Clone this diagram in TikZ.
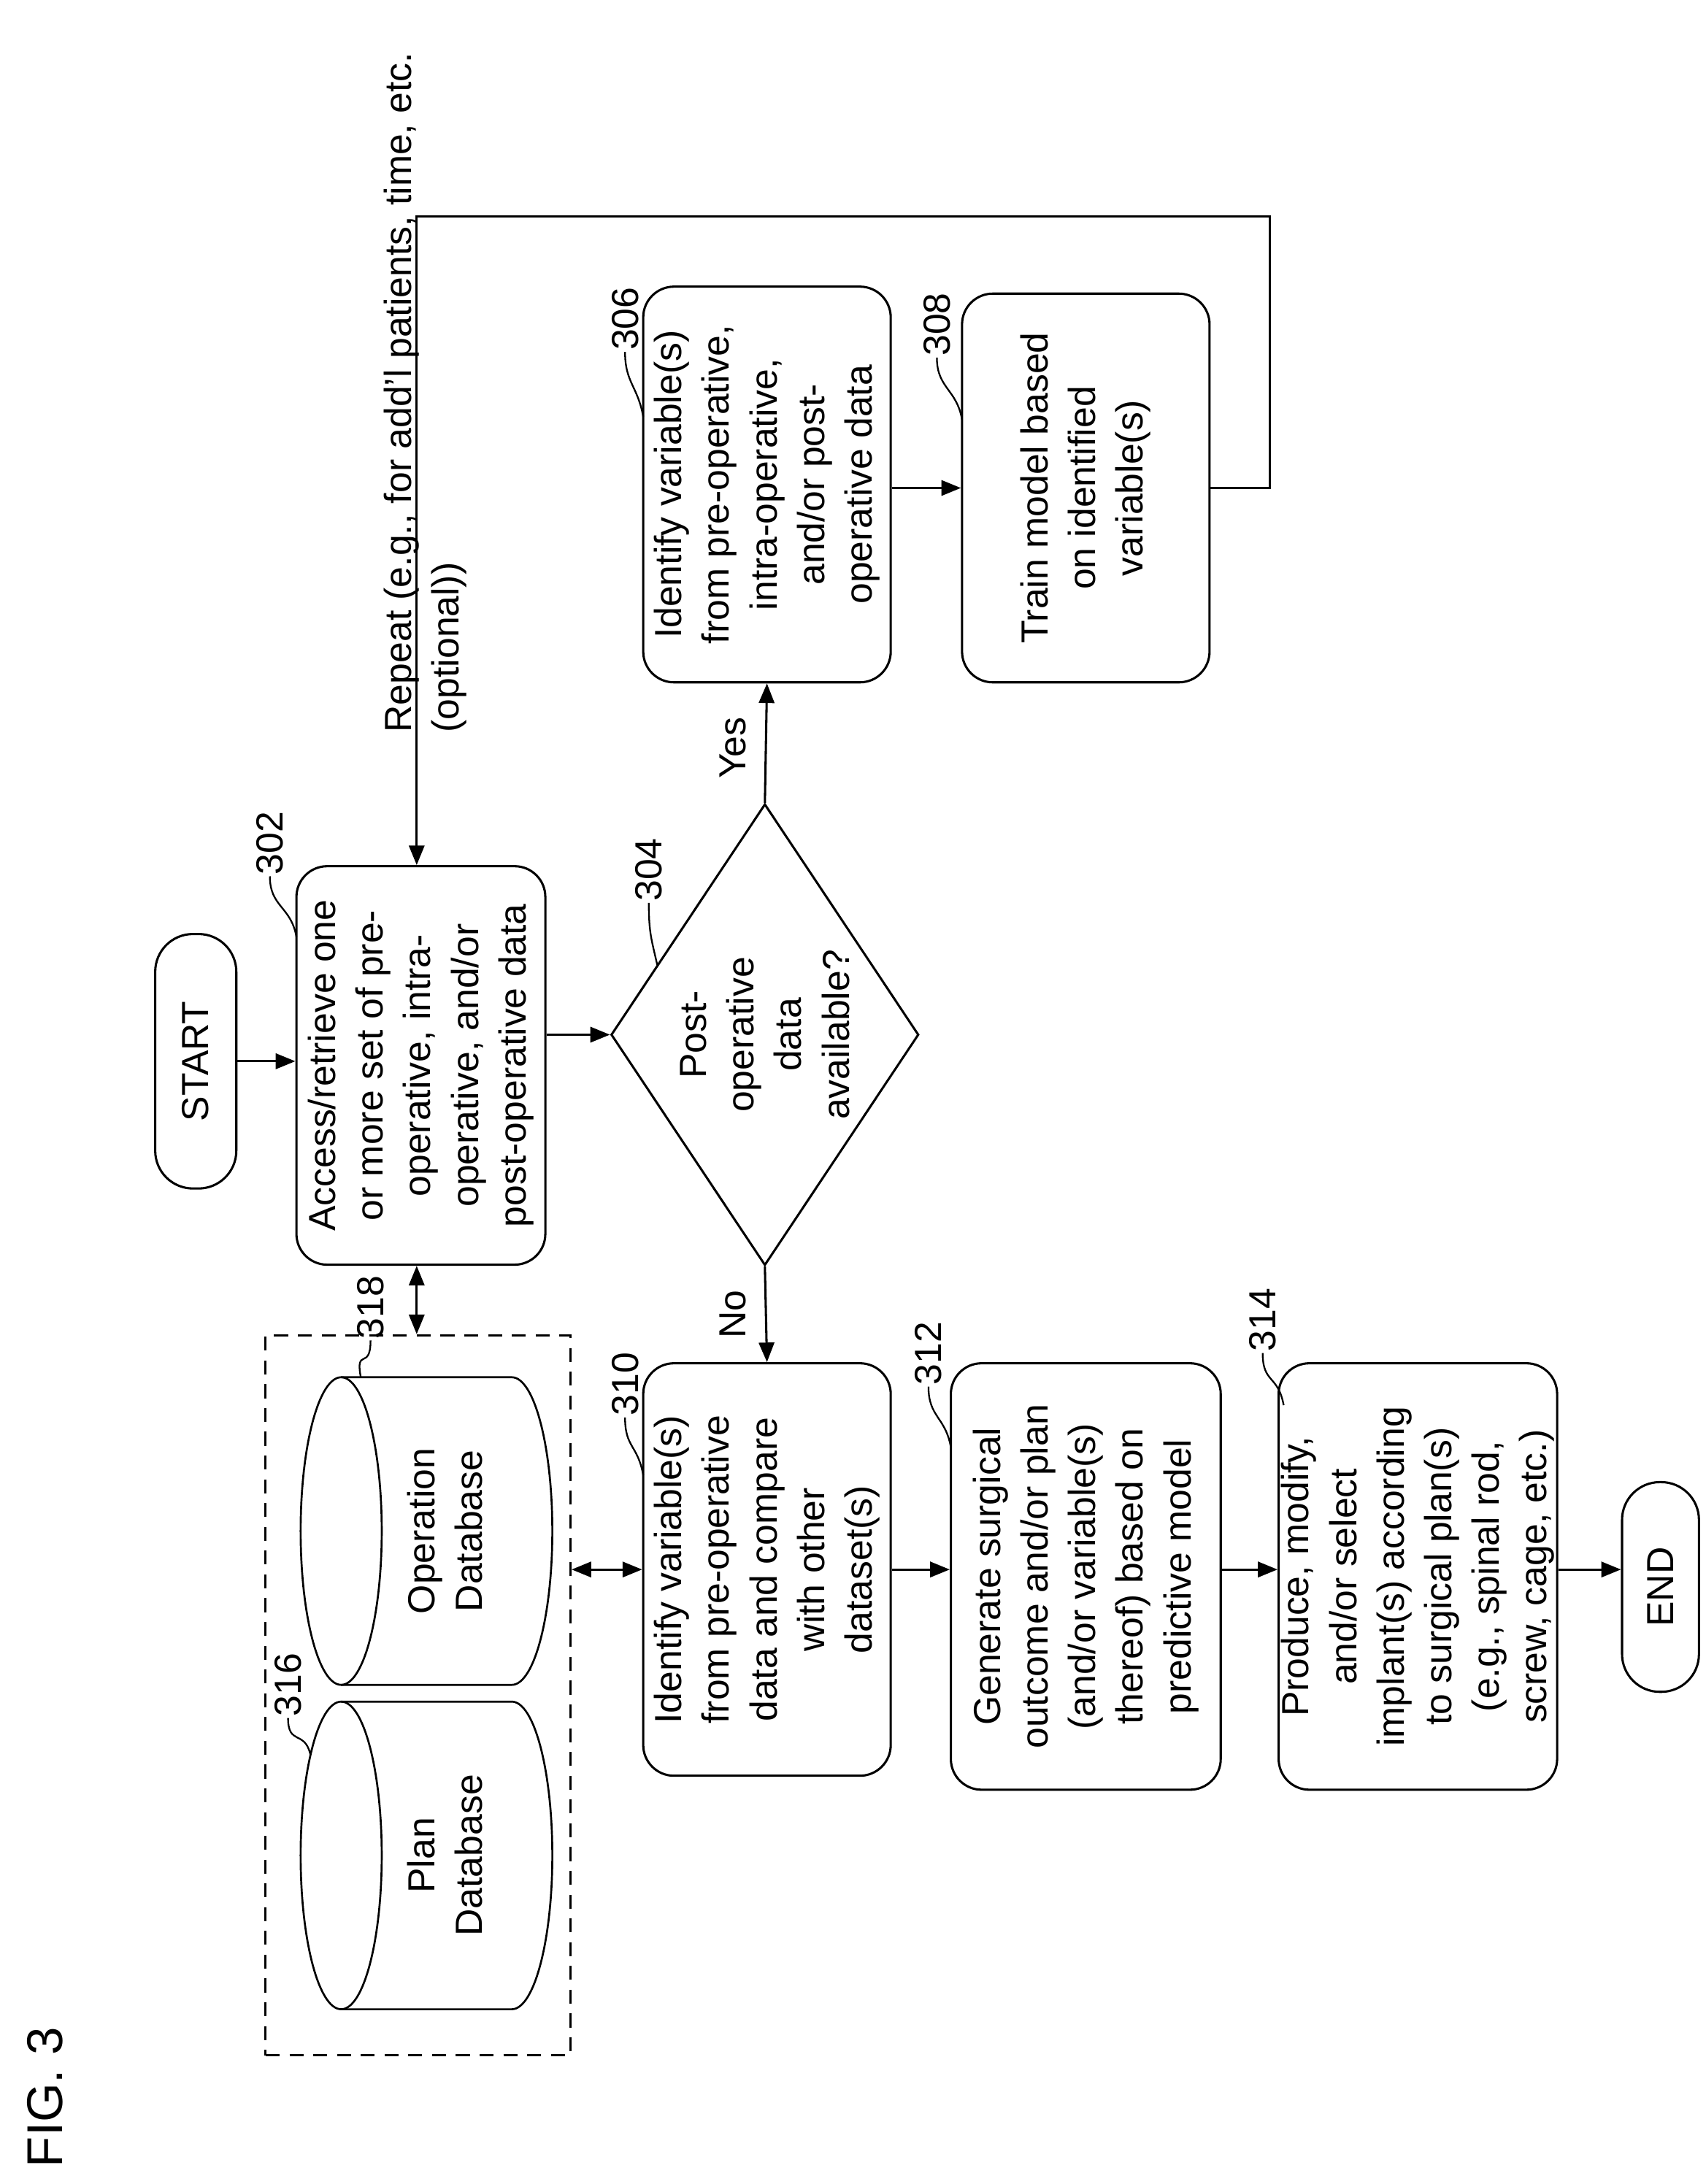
\documentclass[tikz,border=0pt]{standalone}
\usepackage{fontspec}
\setmainfont{Liberation Sans}
\usetikzlibrary{shapes.geometric,arrows.meta}
\begin{document}
\begin{tikzpicture}[x=1pt,y=-1pt,
  every node/.style={font=\fontsize{27}{34}\selectfont},
  box/.style={draw,line width=1.6pt,rounded corners=22pt,rotate=90,align=center,inner sep=2pt},
  pill/.style={draw,line width=1.6pt,rounded corners=27pt,rotate=90,align=center},
  txt/.style={rotate=90,align=center},
  ref/.style={rotate=90,inner sep=1pt},
  lead/.style={line width=1.2pt},
  arr/.style={line width=1.6pt,-{Triangle[length=14pt,width=11pt]}},
  darr/.style={line width=1.6pt,{Triangle[length=14pt,width=11pt]}-{Triangle[length=14pt,width=11pt]}},
  line/.style={line width=1.6pt}]
\useasboundingbox (0,0) rectangle (1220,1562);
\fill[white] (0,0) rectangle (1220,1562);

\node[txt,font=\fontsize{36}{40}\selectfont] (fig) at (32,1500) {FIG. 3};

\node[pill,minimum width=182,minimum height=58] (start) at (140,759) {START};
\node[box,minimum width=285,minimum height=178] (p302) at (301,762) {Access/retrieve one\\or more set of pre-\\operative, intra-\\operative, and/or\\post-operative data};
\node[draw,line width=1.6pt,diamond,minimum width=220,minimum height=330,shape aspect=0.667,inner sep=0] (d304) at (547,740) {};
\node[txt] (d304t) at (547,740) {Post-\\operative\\data\\available?};
\node[box,minimum width=283,minimum height=177] (p306) at (548.5,346.5) {Identify variable(s)\\from pre-operative,\\intra-operative,\\and/or post-\\operative data};
\node[box,minimum width=278,minimum height=177] (p308) at (776.5,349) {Train model based\\on identified\\variable(s)};
\node[box,minimum width=295,minimum height=177] (p310) at (548.5,1122.5) {Identify variable(s)\\from pre-operative\\data and compare\\with other\\dataset(s)};
\node[box,minimum width=305,minimum height=193] (p312) at (776.5,1127.5) {Generate surgical\\outcome and/or plan\\(and/or variable(s)\\thereof) based on\\predictive model};
\node[box,minimum width=305,minimum height=192] (p314) at (1014,1127.5) {Produce, modify,\\and/or select\\implant(s) according\\to surgical plan(s)\\(e.g., spinal rod,\\screw, cage, etc.)};
\node[pill,minimum width=150,minimum height=55] (end) at (1187.5,1135) {END};

\node[draw,dashed,line width=1.6pt,dash pattern=on 10pt off 7pt,minimum width=218,minimum height=515] (db) at (299,1212.5) {};

% cylinders
\foreach \cy/\nm/\tx in {1095/c318/{Operation\\Database},1327/c316/{Plan\\Database}}{
  \draw[line width=1.4pt] (244,\cy) ellipse [x radius=29,y radius=110];
  \draw[line width=1.4pt] (244,\cy-110) -- (366,\cy-110) arc[start angle=-90,end angle=90,x radius=29,y radius=110] -- (244,\cy+110);
  \node[txt] (\nm) at (318,\cy) {\tx};
}

% ref labels
\node[ref] (r302) at (193,603) {302};
\draw[lead] (r302.west) .. controls +(0,22) and +(-4,-22) .. (212,670);
\node[ref] (r304) at (464,622) {304};
\draw[lead] (r304.west) .. controls +(0,22) and +(-4,-18) .. (470,690);
\node[ref] (r306) at (447,228) {306};
\draw[lead] (r306.west) .. controls +(0,22) and +(-4,-22) .. (460,298);
\node[ref] (r308) at (670,232) {308};
\draw[lead] (r308.west) .. controls +(0,22) and +(-4,-22) .. (688,300);
\node[ref] (r310) at (447,990) {310};
\draw[lead] (r310.west) .. controls +(0,22) and +(-4,-22) .. (460,1055);
\node[ref] (r312) at (664,968) {312};
\draw[lead] (r312.west) .. controls +(0,22) and +(-4,-22) .. (680,1035);
\node[ref] (r314) at (903,944) {314};
\draw[lead] (r314.west) .. controls +(0,22) and +(-4,-22) .. (918,1005);
\node[ref] (r316) at (206,1205) {316};
\draw[lead] (r316.west) .. controls +(0,20) and +(-4,-18) .. (222,1255);
\node[ref] (r318) at (265,935) {318};
\draw[lead] (r318.west) .. controls +(0,22) and +(-4,-22) .. (258,985);

% connectors
\draw[arr] (start.south) -- (start.south -| p302.north);
\draw[arr] (p302.south |- d304) -- (d304.west);
\draw[arr] (d304.north) -- (p306.west);
\node[txt] (yes) at (524,535) {Yes};
\draw[arr] (d304.south) -- (p310.east);
\node[txt] (no) at (524,940) {No};
\draw[arr] (p306.south |- p308) -- (p308.north);
\coordinate (c1) at (908,349);
\coordinate (c2) at (908,155);
\coordinate (c3) at (298,155);
\draw[arr] (p308.south) -- (c1) -- (c2) -- (c3) -- (c3 |- p302.east);
\node[txt,anchor=south west,align=left,inner sep=0pt] (rep) at (334,524) {Repeat (e.g., for add'l patients, time, etc.\\(optional))};
\draw[darr] (p302.west -| c3) -- (db.north -| c3);
\draw[darr] (db.east |- p310) -- (p310.north);
\draw[arr] (p310.south |- p310) -- (p312.north |- p310);
\draw[arr] (p312.south |- p310) -- (p314.north |- p310);
\draw[arr] (p314.south |- p310) -- (end.north |- p310);
\end{tikzpicture}
\end{document}
